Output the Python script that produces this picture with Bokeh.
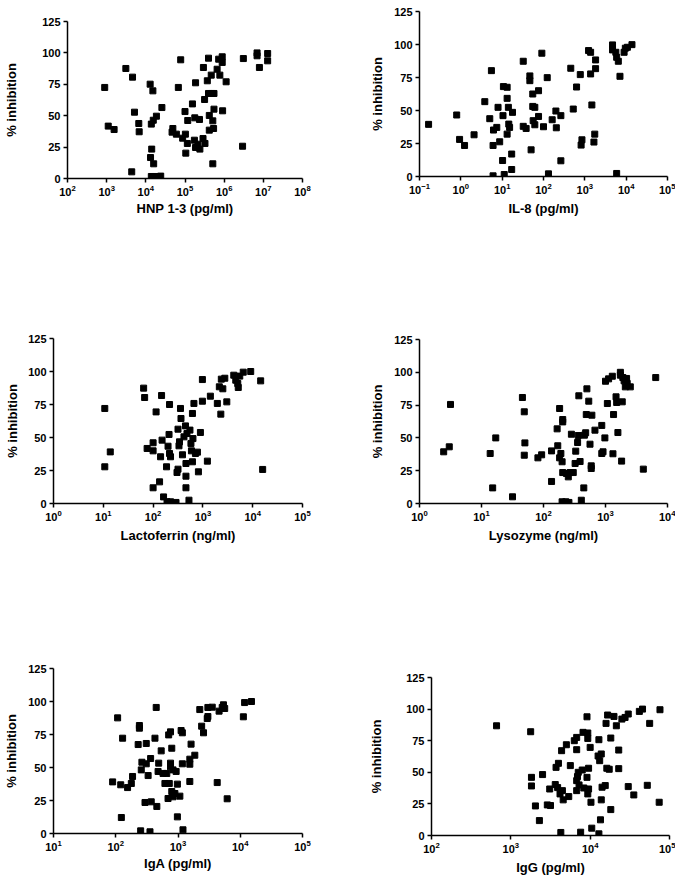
from bokeh.plotting import figure
from bokeh.layouts import row, column
from bokeh.models import FixedTicker, LogTickFormatter, Range1d, Spacer
from bokeh.embed import file_html
from bokeh.resources import INLINE

# ---- data: (log10 concentration, % inhibition) ----
hnp_points = [(2.95, 72.5), (3.04, 41.7), (3.19, 39), (3.49, 87.6), (3.66, 80.7), (3.64, 5.3),
              (3.71, 52.8), (3.82, 43.8), (3.83, 37.2), (4.11, 75.1), (4.18, 69.8), (4.14, 43.3),
              (4.19, 46.4), (4.27, 49.6), (4.15, 23.4), (4.12, 16.7), (4.2, 11.7), (4.14, 1.6),
              (4.19, 1.6), (4.24, 1.6), (4.38, 1.9), (4.41, 56.5), (4.83, 72.5), (4.89, 94.5),
              (4.67, 36.9), (4.69, 39.8), (4.78, 35.3), (4.94, 32.1), (5.01, 35.3), (5.0, 53.3),
              (5.02, 20.2), (5.06, 27.9), (5.07, 46.2), (5.19, 59.4), (5.25, 48.3), (5.27, 76.2),
              (5.24, 30.5), (5.27, 24.7), (5.33, 27.3), (5.37, 47), (5.38, 23.4), (5.47, 88.4),
              (5.5, 62.9), (5.46, 31.8), (5.51, 27.9), (5.6, 95.8), (5.57, 77.8), (5.6, 67.7),
              (5.62, 50.2), (5.62, 38.5), (5.67, 82.3), (5.68, 67.7), (5.74, 67.7), (5.71, 45.9),
              (5.73, 39.8), (5.74, 55.2), (5.71, 11.7), (5.82, 87), (5.86, 95), (5.89, 82.3),
              (5.95, 96.9), (5.95, 92.4), (5.96, 53.9), (6.05, 77), (6.49, 95.5), (6.47, 25.7),
              (6.84, 100), (6.84, 97.7), (6.9, 88.4), (7.11, 99.5), (7.11, 93.7)]

il8_points = [(-0.78, 39.5), (-0.1, 46.6), (-0.03, 28.1), (0.09, 23.5), (0.32, 31.6), (0.58, 56.7),
              (0.70, 43.8), (0.74, 80.2), (0.78, 0.5), (0.78, 23.5), (0.79, 35.2), (0.87, 37.2),
              (0.9, 52.4), (0.94, 26.3), (1.01, 12.1), (1.02, 46.1), (1.03, 68.1), (1.05, 1.5),
              (1.12, 67.6), (1.12, 59.2), (1.15, 52.4), (1.12, 32.1), (1.16, 39.7), (1.18, 37.2),
              (1.25, 48.6), (1.23, 17), (1.23, 5.3), (1.51, 87.3), (1.51, 38), (1.58, 36.4),
              (1.67, 76.2), (1.67, 72.6), (1.70, 20.2), (1.74, 62.5), (1.74, 53.1), (1.79, 52.4),
              (1.75, 42.3), (1.79, 39.2), (1.88, 65), (1.88, 45.5), (1.96, 93.4), (2.0, 37.7),
              (2.09, 74.9), (2.12, 2), (2.21, 43), (2.3, 49.6), (2.31, 36.9), (2.42, 46.1),
              (2.42, 11.9), (2.66, 82), (2.72, 51.1), (2.8, 67.8), (2.89, 77.2), (2.91, 23.8),
              (2.93, 27.8), (3.09, 95.4), (3.14, 94.1), (3.14, 77.7), (3.17, 54.2), (3.22, 26.1),
              (3.24, 32.1), (3.26, 88.3), (3.26, 81.7), (3.67, 99.7), (3.67, 95.9), (3.75, 94.1),
              (3.77, 90.3), (3.81, 87.3), (3.85, 75.9), (3.77, 2.3), (3.95, 94.1), (3.98, 97.2),
              (4.03, 97.9), (4.14, 99.9)]

lacto_points = [(1.03, 72), (1.03, 27.8), (1.14, 39.1), (1.81, 87.4), (1.83, 80.3), (1.88, 41.7),
                (2.0, 46), (2.0, 39.9), (2.0, 11.9), (2.06, 69.4), (2.13, 16.4), (2.15, 35.4),
                (2.17, 81.8), (2.18, 48), (2.21, 5), (2.27, 27.8), (2.28, 1.3), (2.30, 43.4),
                (2.32, 52.3), (2.33, 75), (2.33, 37.9), (2.35, 35.4), (2.35, 1.3), (2.46, 0.8),
                (2.48, 23.5), (2.5, 56.3), (2.5, 26), (2.53, 46.7), (2.52, 43.7), (2.55, 72),
                (2.56, 64.4), (2.59, 36.9), (2.62, 50.5), (2.65, 58.8), (2.66, 30.3), (2.66, 20.7),
                (2.66, 11.9), (2.68, 53), (2.72, 2.5), (2.74, 55.6), (2.76, 45.5), (2.77, 39.9),
                (2.79, 68.2), (2.8, 49.2), (2.79, 31.6), (2.82, 75.8), (2.85, 37.9), (2.89, 38.9),
                (2.91, 24), (2.95, 53.8), (2.99, 93.9), (2.99, 77.5), (3.09, 32.1), (3.15, 81.3),
                (3.29, 75.8), (3.33, 88.4), (3.36, 67.7), (3.37, 94.2), (3.4, 86.9), (3.44, 94.9),
                (3.48, 77), (3.62, 97.2), (3.66, 93.4), (3.7, 90.9), (3.71, 87.9), (3.74, 96.5),
                (3.81, 99.5), (3.96, 100), (4.16, 92.9), (4.2, 25.8)]

lyso_points = [(0.39, 39.4), (0.48, 43.2), (0.5, 75.5), (1.14, 38.1), (1.18, 11.9), (1.23, 50),
               (1.5, 5.1), (1.66, 80.8), (1.69, 69.9), (1.7, 46.2), (1.69, 36.8), (1.91, 34.8),
               (1.97, 37.1), (2.13, 40.1), (2.13, 16.8), (2.22, 56.9), (2.23, 44), (2.26, 72.4),
               (2.26, 34.8), (2.28, 38.1), (2.3, 31.8), (2.31, 64), (2.31, 62.2), (2.31, 23.6),
               (2.3, 1.3), (2.36, 1.3), (2.37, 22.9), (2.4, 20.3), (2.41, 0.8), (2.43, 23.6),
               (2.45, 52.8), (2.48, 23.6), (2.51, 30.5), (2.52, 39.9), (2.55, 46.5), (2.56, 51.8),
               (2.57, 82.1), (2.59, 32), (2.61, 2.5), (2.65, 11.9), (2.66, 52.1), (2.68, 53.9),
               (2.69, 67.8), (2.7, 87.4), (2.73, 78), (2.75, 45.2), (2.78, 67.3), (2.77, 26.7),
               (2.77, 28.7), (2.83, 55.9), (2.94, 38.1), (2.96, 39.4), (2.94, 59.5), (2.99, 50),
               (3.0, 93.2), (3.03, 76.2), (3.05, 95), (3.11, 97), (3.12, 37.9), (3.13, 67.8),
               (3.17, 81.3), (3.18, 77), (3.2, 54.1), (3.24, 100), (3.24, 97.8), (3.26, 32.3),
               (3.27, 77.5), (3.28, 96), (3.3, 93.5), (3.32, 88.9), (3.34, 95.3), (3.35, 91.5),
               (3.4, 88.9), (3.61, 26.2), (3.81, 96)]

iga_points = [(1.95, 39.1), (2.03, 87.6), (2.08, 36.9), (2.09, 12.1), (2.11, 72.2), (2.19, 34.8),
              (2.25, 37.9), (2.27, 43.2), (2.36, 67.4), (2.38, 81.8), (2.38, 79.8), (2.40, 2),
              (2.41, 48.2), (2.42, 54), (2.47, 23.5), (2.49, 52.8), (2.49, 68.2), (2.52, 43.9),
              (2.55, 1.3), (2.56, 56.8), (2.57, 24), (2.63, 72.2), (2.65, 95.5), (2.66, 20.5),
              (2.68, 47), (2.69, 53.3), (2.73, 62.6), (2.76, 45.5), (2.79, 37.9), (2.82, 45.5),
              (2.84, 26.5), (2.85, 74.7), (2.86, 37.9), (2.88, 77), (2.88, 53.3), (2.88, 50.5),
              (2.9, 64.6), (2.9, 31.8), (2.92, 27.8), (2.92, 48.2), (2.95, 30.3), (2.97, 47),
              (2.99, 37.4), (2.99, 12.6), (3.03, 28.3), (3.05, 78), (3.07, 76.3), (3.07, 52.8),
              (3.08, 2.8), (3.19, 39.4), (3.19, 52.5), (3.19, 56.3), (3.21, 67.7), (3.27, 59.3),
              (3.35, 93.9), (3.38, 81.3), (3.41, 76.3), (3.47, 87.1), (3.48, 88.6), (3.48, 95.5),
              (3.55, 95.7), (3.63, 38.6), (3.66, 92.7), (3.71, 95.5), (3.73, 97.5), (3.75, 94.7),
              (3.79, 26.3), (4.05, 88.4), (4.07, 99.2), (4.18, 100)]

igg_points = [(2.82, 86.8), (3.25, 82.1), (3.26, 46), (3.26, 39.2), (3.31, 23.4), (3.36, 11.8),
              (3.40, 48.2), (3.46, 24.2), (3.49, 36.8), (3.50, 23.7), (3.56, 40.3), (3.57, 53.9),
              (3.59, 37.9), (3.60, 57.1), (3.62, 32.9), (3.63, 2.4), (3.64, 67.1), (3.65, 35.5),
              (3.66, 28.2), (3.70, 71.8), (3.73, 30.8), (3.75, 55.3), (3.80, 75), (3.83, 67.9),
              (3.83, 35.5), (3.83, 77.6), (3.83, 43.4), (3.84, 46.6), (3.85, 50), (3.86, 40),
              (3.88, 2.6), (3.90, 51.8), (3.91, 81.6), (3.92, 37.6), (3.96, 93.9), (3.96, 46),
              (3.97, 81.1), (3.97, 76.8), (3.97, 32.9), (3.98, 53.2), (3.98, 36.8), (4.0, 69.7),
              (4.01, 26.3), (4.02, 5.8), (4.11, 1.3), (4.11, 75.8), (4.13, 12.4), (4.10, 62.9),
              (4.12, 59.2), (4.14, 64.5), (4.14, 28.2), (4.15, 38.2), (4.19, 39.5), (4.20, 88.7),
              (4.21, 53.2), (4.22, 95.3), (4.24, 52.4), (4.26, 77.1), (4.26, 20.5), (4.30, 94.2),
              (4.33, 86.8), (4.36, 67.6), (4.36, 52.9), (4.40, 92.1), (4.44, 93.4), (4.48, 96.1),
              (4.48, 38.7), (4.55, 32.1), (4.62, 98.2), (4.66, 100), (4.72, 39.7), (4.75, 88.7),
              (4.87, 26.3), (4.88, 99.5)]

x_labels = ["HNP 1-3 (pg/ml)", "IL-8 (pg/ml)", "Lactoferrin (ng/ml)",
            "Lysozyme (ng/ml)", "IgA (pg/ml)", "IgG (pg/ml)"]
x_decades = [(2, 8), (-1, 5), (0, 5), (0, 4), (1, 5), (2, 5)]
y_ticks = [0, 25, 50, 75, 100, 125]
y_label = "% inhibition"

FONT = "Liberation Sans"


def panel(points, xlabel, dec, spacer, bl, fw, fh, br, bb, ystand, xstand):
    xs = [10 ** v for v, _ in points]
    ys = [w for _, w in points]
    p = figure(x_axis_type="log",
               x_range=Range1d(10 ** dec[0], 10 ** dec[1]),
               y_range=Range1d(y_ticks[0], y_ticks[-1]),
               frame_width=fw, frame_height=fh,
               min_border_left=bl, min_border_top=5,
               min_border_right=br, min_border_bottom=bb,
               output_backend="svg", toolbar_location=None)
    p.outline_line_color = None
    p.xgrid.visible = False
    p.ygrid.visible = False
    p.background_fill_color = "white"
    p.border_fill_color = "white"
    p.xaxis.ticker = FixedTicker(ticks=[10 ** d for d in range(dec[0], dec[1] + 1)], minor_ticks=[])
    p.xaxis.formatter = LogTickFormatter()
    p.yaxis.ticker = FixedTicker(ticks=y_ticks, minor_ticks=[])
    p.xaxis.axis_label = xlabel
    p.yaxis.axis_label = y_label
    for ax in p.axis:
        ax.axis_line_width = 1.5
        ax.axis_line_color = "black"
        ax.major_tick_line_width = 1.5
        ax.major_tick_line_color = "black"
        ax.major_tick_out = 4
        ax.major_tick_in = 0
        ax.minor_tick_out = 0
        ax.minor_tick_in = 0
        ax.major_label_text_font = FONT
        ax.major_label_text_font_style = "bold"
        ax.major_label_text_font_size = "11px"
        ax.major_label_text_color = "black"
        ax.axis_label_text_font = FONT
        ax.axis_label_text_font_style = "bold"
        ax.axis_label_text_font_size = "13px"
        ax.axis_label_text_color = "black"
    p.yaxis.major_label_standoff = 3
    p.xaxis.major_label_standoff = 2
    p.yaxis.axis_label_standoff = ystand
    p.xaxis.axis_label_standoff = xstand
    p.scatter(xs, ys, marker="square", size=6, color="black", line_color="black")
    total_w = bl + fw + br
    return column(Spacer(width=total_w, height=spacer), p)


# row 1 (height 290)
c1 = panel(hnp_points, x_labels[0], x_decades[0], 16, 67, 235, 157, 38, 112, 20, 2)
c2 = panel(il8_points, x_labels[1], x_decades[1], 6, 79, 248, 165, 8, 114, 6, 4)
# row 2 (height 330)
c3 = panel(lacto_points, x_labels[2], x_decades[2], 43, 53, 249, 165, 38, 117, 5, 4)
c4 = panel(lyso_points, x_labels[3], x_decades[3], 44, 79, 248, 164, 8, 117, 6, 4)
# row 3 (height 256)
c5 = panel(iga_points, x_labels[4], x_decades[4], 43, 53, 249, 165, 38, 43, 6, 2)
c6 = panel(igg_points, x_labels[5], x_decades[5], 52, 91, 238, 158, 6, 41, 19, 4)

layout = column(row(c1, c2), row(c3, c4), row(c5, c6))
open("out.html", "w").write(file_html(layout, INLINE))
